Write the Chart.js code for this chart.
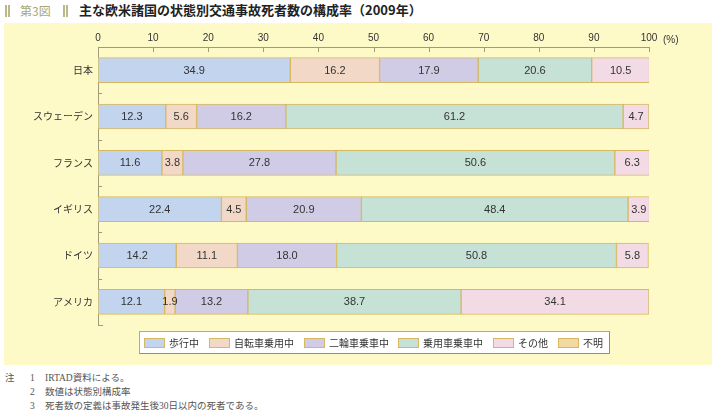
<!DOCTYPE html>
<html><head><meta charset="utf-8">
<script src="https://cdn.jsdelivr.net/npm/chart.js@4"></script>
<style>
body{margin:0;width:716px;height:414px;background:#fff;position:relative;overflow:hidden;font-family:"Liberation Sans","Noto Sans CJK JP",sans-serif;}
.bar{position:absolute;top:5px;width:2px;height:12px;background:#b9b98a;}
#fig{position:absolute;left:20px;top:2px;font-size:12px;line-height:18px;color:#a8a878;font-family:"Noto Sans CJK JP",sans-serif;}
#title{position:absolute;left:79px;top:1px;font-size:13px;line-height:18px;color:#222;font-weight:bold;font-family:"Noto Sans CJK JP",sans-serif;}
#panel{position:absolute;left:4px;top:23px;width:708px;height:342px;background:#fefac8;}
#panel canvas{position:absolute;left:0;top:0;}
.note{position:absolute;font-family:"Liberation Serif","Noto Sans CJK JP",serif;font-size:9.5px;line-height:12px;color:#555;white-space:nowrap;}
</style>
</head><body>
<div class="bar" style="left:5px"></div><div class="bar" style="left:8px"></div>
<div id="fig">第3図</div>
<div class="bar" style="left:63px"></div><div class="bar" style="left:66px"></div>
<div id="title">主な欧米諸国の状態別交通事故死者数の構成率（2009年）</div>
<div id="panel"><canvas id="c" width="708" height="342"></canvas></div>
<div class="note" style="left:5px;top:372px">注</div>
<div class="note" style="left:30px;top:372px">1</div>
<div class="note" style="left:45px;top:372px">IRTAD資料による。</div>
<div class="note" style="left:30px;top:386px">2</div>
<div class="note" style="left:45px;top:386px">数値は状態別構成率</div>
<div class="note" style="left:30px;top:400px">3</div>
<div class="note" style="left:45px;top:400px">死者数の定義は事故発生後30日以内の死者である。</div>
<script>
const categories = ["日本","スウェーデン","フランス","イギリス","ドイツ","アメリカ"];
const seriesNames = ["歩行中","自転車乗用中","二輪車乗車中","乗用車乗車中","その他","不明"];
const walking    = [34.9, 12.3, 11.6, 22.4, 14.2, 12.1];
const cycling    = [16.2,  5.6,  3.8,  4.5, 11.1,  1.9];
const motorcycle = [17.9, 16.2, 27.8, 20.9, 18.0, 13.2];
const car        = [20.6, 61.2, 50.6, 48.4, 50.8, 38.7];
const other      = [10.5,  4.7,  6.3,  3.9,  5.8, 34.1];
const unknown    = [0, 0, 0, 0, 0, 0];
const xTicks = [0,10,20,30,40,50,60,70,80,90,100];

const colors = ["#c3d4ee","#f2d8c7","#d1cce6","#c6e1d6","#f3dbe6","#f3d8a2"];
const seriesData = [walking, cycling, motorcycle, car, other, unknown];
const edge = "#d6b862";
const axisCol = "#a39a78";
const txt = "#333";
const latin = '"Liberation Sans","Noto Sans CJK JP",sans-serif';
const jp = '"Noto Sans CJK JP",sans-serif';

const datasets = seriesNames.map((n,i)=>({
  label:n, data:seriesData[i], backgroundColor:colors[i], borderColor:edge,
  borderWidth:1, borderSkipped:false, barThickness:25
}));

const decor = {
  id:'decor',
  afterDatasetsDraw(chart){
    const ctx = chart.ctx;
    ctx.save();
    ctx.font = '11px '+latin;
    ctx.fillStyle = txt;
    ctx.textAlign='center'; ctx.textBaseline='middle';
    chart.data.datasets.forEach((ds,di)=>{
      const meta = chart.getDatasetMeta(di);
      meta.data.forEach((el,i)=>{
        const v = ds.data[i];
        if(!v) return;
        ctx.fillText(v.toFixed(1), (el.x+el.base)/2, el.y+0.5);
      });
    });
    ctx.restore();
  },
  afterDraw(chart){
    const ctx = chart.ctx, ca = chart.chartArea;
    const xs = chart.scales.x;
    ctx.save();
    ctx.strokeStyle = axisCol; ctx.lineWidth = 1;
    ctx.beginPath();
    xTicks.forEach(v=>{ if(v===0) return; const px=Math.round(xs.getPixelForValue(v))+0.5; ctx.moveTo(px,ca.top); ctx.lineTo(px,ca.top+5); });
    const n = categories.length, h = (ca.bottom-ca.top)/n;
    for(let i=1;i<=n;i++){ const py=Math.round(ca.top+i*h)+0.5; ctx.moveTo(ca.left,py); ctx.lineTo(ca.left+(i===n?5:4),py); }
    ctx.stroke();
    // (%) unit
    ctx.font='10px '+latin; ctx.fillStyle=txt; ctx.textAlign='left'; ctx.textBaseline='middle';
    ctx.fillText('(%)', xs.getPixelForValue(100)+14, 17);
    // legend
    ctx.font='10px '+jp;
    const items = chart.data.datasets.map(d=>({label:d.label,color:d.backgroundColor,w:20+5+ctx.measureText(d.label).width}));
    const gap = 10;
    const total = items.reduce((s,it)=>s+it.w,0)+gap*(items.length-1);
    const cx = (ca.left+ca.right)/2;
    let x = cx-total/2;
    const by = 308, bh = 22;
    const bx = Math.round(x-5), bw = Math.round(total+10);
    ctx.fillStyle='#fff'; ctx.fillRect(bx, by, bw, bh);
    ctx.strokeStyle='#a8a8a8'; ctx.strokeRect(bx+0.5, by+0.5, bw, bh);
    ctx.strokeStyle='#8c8c8c'; ctx.beginPath();
    ctx.moveTo(bx+bw+0.5, by+0.5); ctx.lineTo(bx+bw+0.5, by+bh+0.5);
    ctx.lineTo(bx+0.5, by+bh+0.5); ctx.stroke();
    items.forEach(it=>{
      const sx = Math.round(x);
      ctx.fillStyle=it.color; ctx.fillRect(sx,315,20,9);
      ctx.strokeStyle=edge; ctx.strokeRect(sx+0.5,315.5,20,9);
      ctx.fillStyle=txt; ctx.textAlign='left'; ctx.textBaseline='middle';
      ctx.fillText(it.label, sx+25, 320);
      x += it.w + gap;
    });
    ctx.restore();
  }
};

new Chart(document.getElementById('c'), {
  type:'bar',
  data:{labels:categories, datasets},
  options:{
    indexAxis:'y', responsive:false, animation:false,
    layout:{padding:{left:0,right:63,top:0,bottom:40}},
    plugins:{legend:{display:false}, tooltip:{enabled:false}},
    scales:{
      x:{position:'top', stacked:true, min:0, max:100,
         afterBuildTicks(s){ s.ticks = xTicks.map(v=>({value:v})); },
         afterFit(s){ s.height = 24; },
         grid:{display:false, drawTicks:false},
         border:{display:true, color:axisCol, width:1},
         ticks:{color:txt, font:{size:10, family:latin}, padding:3, maxRotation:0, autoSkip:false}},
      y:{stacked:true, offset:true,
         afterFit(s){ s.width = 94; },
         grid:{display:false, drawTicks:false},
         border:{display:true, color:axisCol, width:1},
         ticks:{color:txt, font:{size:10, family:jp}, padding:5}}
    }
  },
  plugins:[decor]
});
</script>
</body></html>
